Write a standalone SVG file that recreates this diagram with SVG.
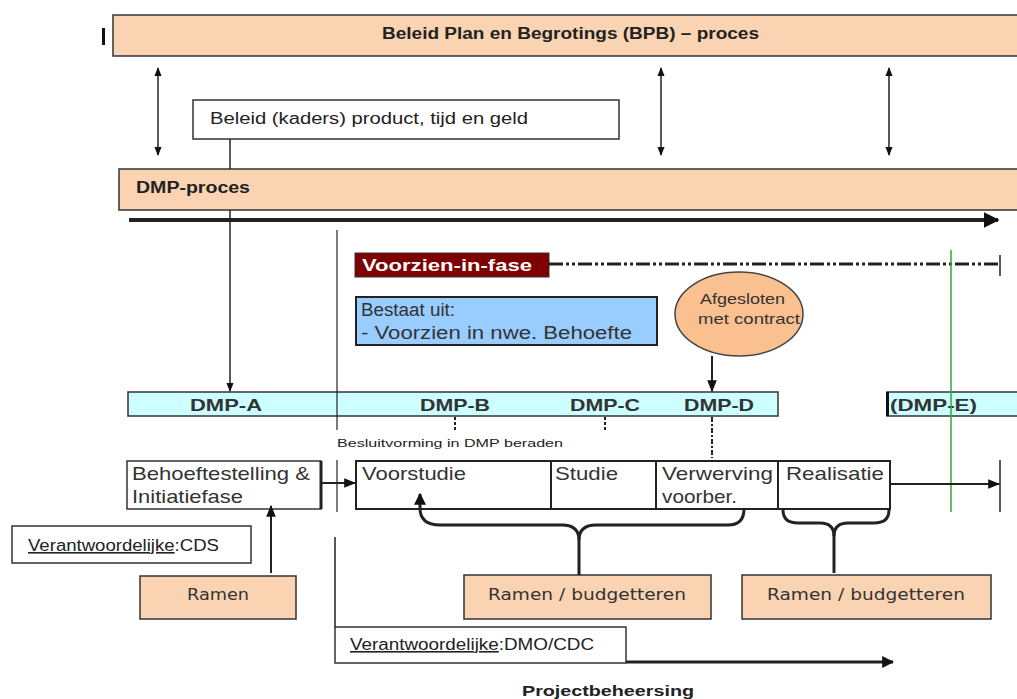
<svg xmlns="http://www.w3.org/2000/svg" width="1017" height="699" viewBox="0 0 1017 699">
<defs>
<style>
.peach{fill:#FAD4B2;stroke:#333;stroke-width:1.5}
.wbox{fill:#fff;stroke:#333;stroke-width:1.5}
.cal{font-family:"Liberation Sans",Arial,sans-serif;fill:#222}
.ar{font-family:"Liberation Sans",Arial,sans-serif;fill:#333}
.ver{font-family:"DejaVu Sans",Verdana,sans-serif;fill:#333}
.ln{stroke:#222;fill:none}
</style>
<marker id="ah" viewBox="0 0 10 10" refX="9" refY="5" markerWidth="4" markerHeight="4" orient="auto-start-reverse" markerUnits="strokeWidth"><path d="M0,0 L10,5 L0,10 z" fill="#111"/></marker>
<marker id="ahs" viewBox="0 0 10 10" refX="9" refY="5" markerWidth="6" markerHeight="6" orient="auto-start-reverse" markerUnits="strokeWidth"><path d="M0,1 L10,5 L0,9 z" fill="#111"/></marker>
</defs>

<g id="bpb">
<rect class="peach" x="113" y="15" width="910" height="41"/>
<text class="cal" x="382" y="39" font-size="16" font-weight="bold" textLength="377" lengthAdjust="spacingAndGlyphs">Beleid Plan en Begrotings (BPB) – proces</text>
</g>
<rect x="102" y="28" width="3" height="17" fill="#111"/>

<g id="beleid">
<rect class="wbox" x="193" y="100" width="426" height="39"/>
<text class="cal" x="210" y="124" font-size="16" textLength="318" lengthAdjust="spacingAndGlyphs">Beleid (kaders) product, tijd en geld</text>
</g>

<g id="dmp-proces">
<rect class="peach" x="119" y="169" width="904" height="41"/>
<text class="cal" x="136" y="193" font-size="16" font-weight="bold" textLength="114" lengthAdjust="spacingAndGlyphs">DMP-proces</text>
</g>

<g id="voorzien">
<rect x="355" y="253" width="194" height="24" fill="#7F0000" stroke="#333"/>
<text x="362" y="271" font-family="Liberation Sans,Arial,sans-serif" font-size="16" font-weight="bold" fill="#fff" textLength="170" lengthAdjust="spacingAndGlyphs">Voorzien-in-fase</text>
</g>

<g id="bestaat">
<rect x="356" y="297" width="301" height="48" fill="#99CCFF" stroke="#222" stroke-width="2"/>
<text class="ar" x="361" y="316" font-size="18" textLength="94" lengthAdjust="spacingAndGlyphs">Bestaat uit:</text>
<text class="ar" x="361" y="339" font-size="18" textLength="271" lengthAdjust="spacingAndGlyphs">- Voorzien in nwe. Behoefte</text>
</g>

<g id="afgesloten">
<ellipse cx="739" cy="314" rx="64" ry="42" fill="#FAC090" stroke="#444" stroke-width="1.5"/>
<text class="ar" x="700" y="304" font-size="15" textLength="85" lengthAdjust="spacingAndGlyphs">Afgesloten</text>
<text class="ar" x="698" y="324" font-size="15" textLength="102" lengthAdjust="spacingAndGlyphs">met contract</text>
</g>

<g id="dmp-bar">
<rect x="128" y="392" width="650" height="24" fill="#CCFFFF" stroke="#333" stroke-width="1.5"/>
<text class="ar" x="190" y="411" font-size="17" font-weight="bold" textLength="72" lengthAdjust="spacingAndGlyphs">DMP-A</text>
<text class="ar" x="420" y="411" font-size="17" font-weight="bold" textLength="70" lengthAdjust="spacingAndGlyphs">DMP-B</text>
<text class="ar" x="570" y="411" font-size="17" font-weight="bold" textLength="70" lengthAdjust="spacingAndGlyphs">DMP-C</text>
<text class="ar" x="684" y="411" font-size="17" font-weight="bold" textLength="70" lengthAdjust="spacingAndGlyphs">DMP-D</text>
</g>

<g id="dmp-e">
<rect x="887" y="392" width="140" height="24" fill="#CCFFFF" stroke="#333" stroke-width="1.5"/>
<rect x="886" y="392" width="3" height="24" fill="#111"/>
<text class="ar" x="890" y="411" font-size="17" font-weight="bold" textLength="87" lengthAdjust="spacingAndGlyphs">(DMP-E)</text>
</g>

<text id="besluit" class="cal" x="337" y="447" font-size="11" fill="#333" textLength="226" lengthAdjust="spacingAndGlyphs">Besluitvorming  in DMP beraden</text>

<g id="behoefte">
<rect class="wbox" x="127" y="461" width="194" height="48"/>
<line x1="321" y1="461" x2="321" y2="509" stroke="#222" stroke-width="3"/>
<text class="ar" x="132" y="480" font-size="19" textLength="178" lengthAdjust="spacingAndGlyphs">Behoeftestelling &amp;</text>
<text class="ar" x="132" y="503" font-size="19" textLength="111" lengthAdjust="spacingAndGlyphs">Initiatiefase</text>
</g>

<g id="fasen">
<rect x="356" y="461" width="534" height="48" fill="#fff" stroke="#222" stroke-width="2"/>
<line x1="551" y1="461" x2="551" y2="509" stroke="#222" stroke-width="2"/>
<line x1="656" y1="461" x2="656" y2="509" stroke="#222" stroke-width="2"/>
<line x1="778" y1="461" x2="778" y2="509" stroke="#222" stroke-width="2"/>
<text class="ar" x="362" y="480" font-size="19" textLength="104" lengthAdjust="spacingAndGlyphs">Voorstudie</text>
<text class="ar" x="555" y="480" font-size="19" textLength="63" lengthAdjust="spacingAndGlyphs">Studie</text>
<text class="ar" x="662" y="480" font-size="19" textLength="111" lengthAdjust="spacingAndGlyphs">Verwerving</text>
<text class="ar" x="662" y="503" font-size="19" textLength="75" lengthAdjust="spacingAndGlyphs">voorber.</text>
<text class="ar" x="786" y="480" font-size="19" textLength="98" lengthAdjust="spacingAndGlyphs">Realisatie</text>
</g>

<g id="cds">
<rect class="wbox" x="12" y="526" width="239" height="37"/>
<text class="cal" x="28" y="551" font-size="16" textLength="191" lengthAdjust="spacingAndGlyphs"><tspan text-decoration="underline">Verantwoordelijke</tspan>:CDS</text>
</g>

<g id="ramen">
<rect class="peach" x="140" y="576" width="156" height="43"/>
<text class="ver" x="187" y="600" font-size="16" textLength="62" lengthAdjust="spacingAndGlyphs">Ramen</text>
</g>

<g id="ramen-budget-1">
<rect class="peach" x="464" y="575" width="247" height="44"/>
<text class="ver" x="488" y="600" font-size="15" textLength="198" lengthAdjust="spacingAndGlyphs">Ramen / budgetteren</text>
</g>

<g id="ramen-budget-2">
<rect class="peach" x="742" y="575" width="249" height="44"/>
<text class="ver" x="767" y="600" font-size="15" textLength="198" lengthAdjust="spacingAndGlyphs">Ramen / budgetteren</text>
</g>

<g id="dmo">
<rect class="wbox" x="335" y="627" width="291" height="36"/>
<text class="cal" x="350" y="650" font-size="16" textLength="244" lengthAdjust="spacingAndGlyphs"><tspan text-decoration="underline">Verantwoordelijke</tspan>:DMO/CDC</text>
</g>

<text id="projectbeheersing" class="cal" x="522" y="696" font-size="15" font-weight="bold" textLength="172" lengthAdjust="spacingAndGlyphs">Projectbeheersing</text>

<g id="connectors">
<line class="ln" x1="158" y1="68" x2="158" y2="155" stroke-width="1.5" marker-start="url(#ahs)" marker-end="url(#ahs)"/>
<line class="ln" x1="661" y1="68" x2="661" y2="155" stroke-width="1.5" marker-start="url(#ahs)" marker-end="url(#ahs)"/>
<line class="ln" x1="889" y1="68" x2="889" y2="155" stroke-width="1.5" marker-start="url(#ahs)" marker-end="url(#ahs)"/>
<line class="ln" x1="230" y1="139" x2="230" y2="169" stroke-width="1.5"/>
<line class="ln" x1="230" y1="210" x2="230" y2="391" stroke-width="1.5" marker-end="url(#ahs)"/>
<line class="ln" x1="129" y1="220" x2="998" y2="220" stroke-width="4" marker-end="url(#ah)"/>
<line class="ln" x1="337" y1="230" x2="337" y2="430" stroke-width="1.2"/>
<line class="ln" x1="337" y1="460" x2="337" y2="512" stroke-width="1.2"/>
<line class="ln" x1="335" y1="537" x2="335" y2="627" stroke-width="1.5"/>
<line class="ln" x1="549" y1="264" x2="1000" y2="264" stroke-width="3" stroke-dasharray="14 3 3 3 3 3"/>
<line class="ln" x1="1000" y1="255" x2="1000" y2="276" stroke-width="1.5"/>
<line x1="951" y1="250" x2="951" y2="512" stroke="#33AA33" stroke-width="1.5"/>
<line class="ln" x1="712" y1="356" x2="712" y2="391" stroke-width="2" marker-end="url(#ahs)"/>
<line class="ln" x1="455" y1="417" x2="455" y2="430" stroke-width="2" stroke-dasharray="3 2"/>
<line class="ln" x1="605" y1="417" x2="605" y2="430" stroke-width="2" stroke-dasharray="3 2"/>
<line class="ln" x1="712" y1="417" x2="712" y2="458" stroke-width="2" stroke-dasharray="5 2 2 2"/>
<line class="ln" x1="321" y1="483" x2="355" y2="483" stroke-width="2" marker-end="url(#ahs)"/>
<line class="ln" x1="890" y1="484" x2="999" y2="484" stroke-width="2" marker-end="url(#ahs)"/>
<line class="ln" x1="1000" y1="460" x2="1000" y2="512" stroke-width="1.5"/>
<line class="ln" x1="271" y1="573" x2="271" y2="506" stroke-width="2" marker-end="url(#ahs)"/>
<path class="ln" d="M420,494 L420,508 Q420,525 440,525 L562,525 Q579,525 579,540 L579,575" stroke-width="3" marker-start="url(#ah)"/>
<path class="ln" d="M579,540 Q579,525 596,525 L728,525 Q744,525 744,509" stroke-width="3"/>
<path class="ln" d="M783,510 Q783,523 798,523 L820,523 Q834,523 834,536 L834,573" stroke-width="3"/>
<path class="ln" d="M834,536 Q834,523 848,523 L874,523 Q889,523 889,510" stroke-width="3"/>
<line class="ln" x1="626" y1="662" x2="893" y2="662" stroke-width="3" marker-end="url(#ah)"/>
</g>
</svg>
